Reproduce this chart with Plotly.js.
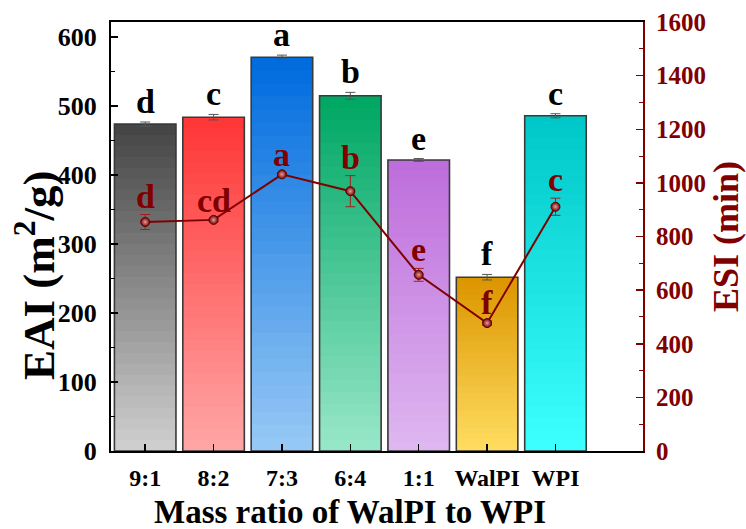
<!DOCTYPE html>
<html><head><meta charset="utf-8">
<script src="https://cdn.plot.ly/plotly-3.0.1.min.js"></script>
<style>html,body{margin:0;padding:0;background:#fff}</style>
</head><body><div id="chart" style="width:746px;height:529px"></div>
<script>
// ---- data ----
const categories = ['9:1', '8:2', '7:3', '6:4', '1:1', 'WalPI', 'WPI'];
const eai = [474, 484, 571, 515, 422, 252, 486];
const eaiErr = [3, 4, 3, 5, 2, 4, 3];
const eaiLetters = ['d', 'c', 'a', 'b', 'e', 'f', 'c'];
const esi = [854, 862, 1032, 969, 657, 477, 911];
const esiErr = [28, 5, 6, 58, 24, 8, 32];
const esiLetters = ['d', 'cd', 'a', 'b', 'e', 'f', 'c'];

// ---- styles ----
const topColors = [[70,70,70],[255,55,55],[0,108,222],[0,168,100],[190,110,220],[220,150,0],[0,200,200]];
const bottomColors = [[206,206,206],[255,165,165],[150,200,245],[150,230,200],[222,182,240],[255,220,95],[60,255,255]];
const FONT = 'Liberation Serif, Times New Roman, serif';
const RED = '#800000';
const N = 30;

const traces = [];
for (let k = 0; k < N; k++) {
  const frac = (N - k) / N;
  const t = k / (N - 1);
  const cols = topColors.map((tc, i) => {
    const bc = bottomColors[i];
    const c = tc.map((v, j) => Math.round(v + (bc[j] - v) * t));
    return 'rgb(' + c.join(',') + ')';
  });
  traces.push({
    type: 'bar', x: categories, y: eai.map(v => v * frac), width: 0.9,
    marker: {color: cols, line: {width: 0}}, hoverinfo: 'skip', showlegend: false
  });
}
traces.push({
  type: 'bar', x: categories, y: eai, width: 0.9,
  marker: {color: 'rgba(0,0,0,0)', line: {color: '#3a3a3a', width: 1.6}},
  error_y: {type: 'data', array: eaiErr, visible: true, color: '#555', thickness: 1, width: 5},
  showlegend: false, name: 'EAI'
});
traces.push({
  type: 'scatter', mode: 'lines+markers', x: categories, y: esi, yaxis: 'y2',
  line: {color: RED, width: 2},
  marker: {size: 9, color: '#7a0000', gradient: {type: 'radial', color: '#e0a0a0'}, line: {color: '#5a0000', width: 1}},
  error_y: {type: 'data', array: esiErr, visible: true, color: '#a02020', thickness: 1, width: 5},
  showlegend: false, name: 'ESI'
});

const annotations = [];
categories.forEach((c, i) => {
  annotations.push({x: c, y: eai[i] + eaiErr[i], xref: 'x', yref: 'y', text: eaiLetters[i],
    showarrow: false, yanchor: 'bottom', yshift: 0,
    font: {family: FONT, size: 34, color: '#000', weight: 'bold'}});
  annotations.push({x: c, y: esi[i] + esiErr[i], xref: 'x', yref: 'y2', text: esiLetters[i],
    showarrow: false, yanchor: 'bottom', yshift: -2,
    font: {family: FONT, size: 34, color: RED, weight: 'bold'}});
});
annotations.push({xref: 'paper', yref: 'paper', x: 0.449, y: -0.142, xanchor: 'center', yanchor: 'middle',
  text: 'Mass ratio of WalPI to WPI', showarrow: false,
  font: {family: FONT, size: 33, color: '#000', weight: 'bold'}});
annotations.push({xref: 'paper', yref: 'paper', x: -0.143, y: 0.41, xanchor: 'center', yanchor: 'middle',
  text: 'EAI (m<sup>2</sup>/g)', textangle: -90, showarrow: false,
  font: {family: FONT, size: 45, color: '#000', weight: 'bold'}});

const layout = {
  width: 746, height: 529,
  margin: {l: 111, r: 103, t: 22, b: 78},
  paper_bgcolor: '#fff', plot_bgcolor: '#fff',
  barmode: 'overlay', bargap: 0.1,
  font: {family: FONT, color: '#000', weight: 'bold'},
  xaxis: {
    type: 'category', range: [-0.5, 7.28],
    showline: true, linecolor: '#000', linewidth: 2, mirror: true,
    ticks: 'inside', ticklen: 7, tickwidth: 1.5, tickcolor: '#000',
    showgrid: false, zeroline: false, ticklabelstandoff: 4,
    tickfont: {family: FONT, size: 24, color: '#000', weight: 'bold'}
  },
  yaxis: {
    range: [0, 622], dtick: 100, tick0: 0,
    showline: true, linecolor: '#000', linewidth: 2,
    ticks: 'inside', ticklen: 7, tickwidth: 1.5, tickcolor: '#000',
    minor: {dtick: 50, ticks: 'inside', ticklen: 4, tickcolor: '#000', tickwidth: 1},
    showgrid: false, zeroline: false, ticklabelstandoff: 7,
    tickfont: {family: FONT, size: 26, color: '#000', weight: 'bold'}
  },
  yaxis2: {
    overlaying: 'y', side: 'right', range: [0, 1600], dtick: 200, tick0: 0,
    showline: true, linecolor: RED, linewidth: 2,
    ticks: 'inside', ticklen: 7, tickwidth: 1.5, tickcolor: RED,
    minor: {dtick: 100, ticks: 'inside', ticklen: 4, tickcolor: RED, tickwidth: 1},
    showgrid: false, zeroline: false, ticklabelstandoff: 6,
    tickfont: {family: FONT, size: 25, color: RED, weight: 'bold'},
    title: {text: 'ESI (min)', standoff: 4,
      font: {family: FONT, size: 36, color: RED, weight: 'bold'}}
  },
  annotations: annotations
};

Plotly.newPlot('chart', traces, layout, {displayModeBar: false, staticPlot: true});
</script>
</body></html>
